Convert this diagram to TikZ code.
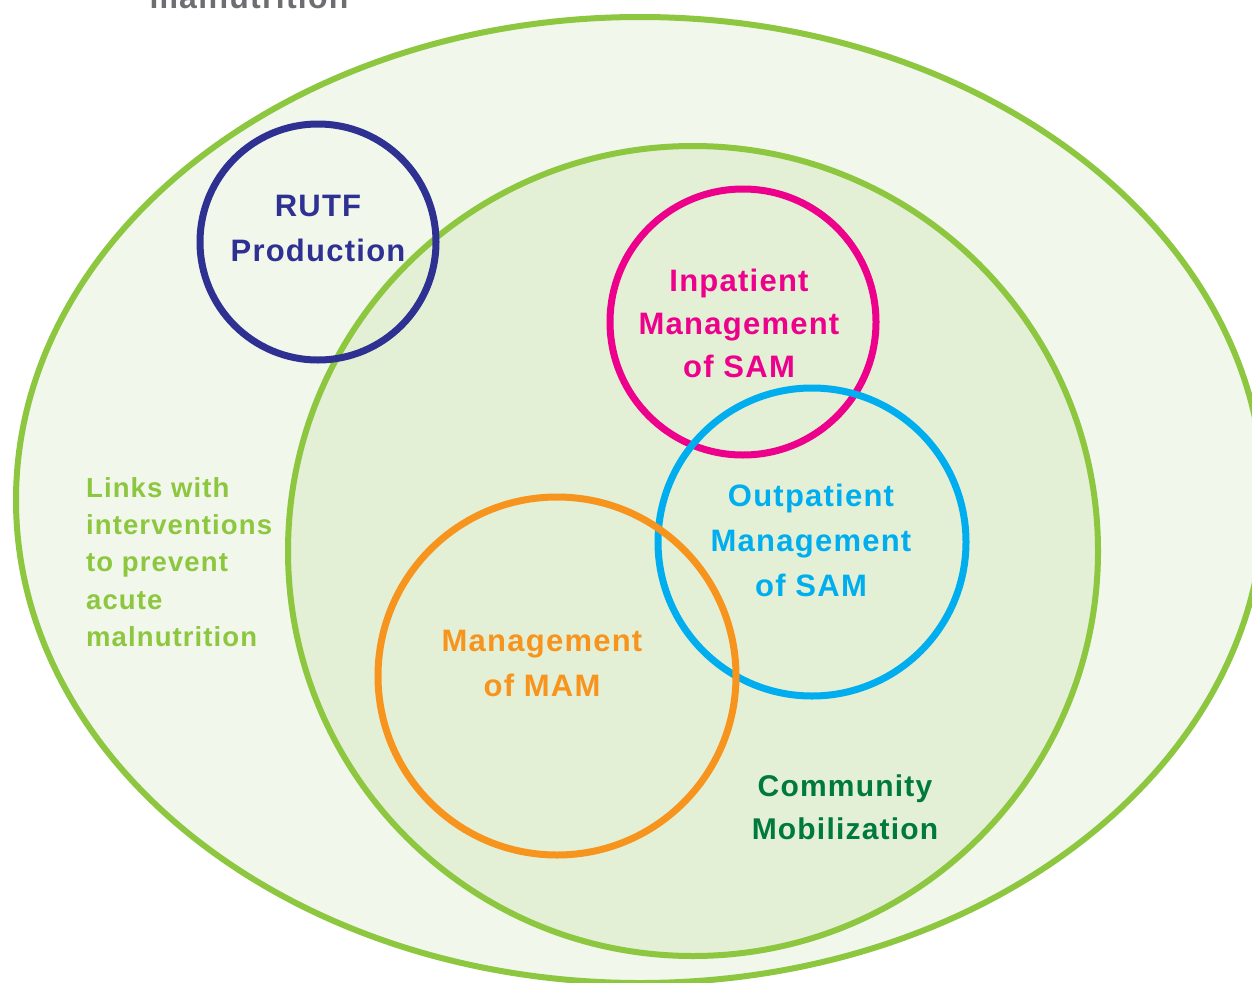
\documentclass[tikz,border=0pt]{standalone}
\usepackage{fontspec}
\setmainfont{Liberation Sans}[LetterSpace=4.0]
\usepackage{tikz}

\definecolor{verdeLinea}{HTML}{8DC63F}
\definecolor{verdeFuori}{HTML}{F1F7EB}
\definecolor{verdeDentro}{HTML}{E3F0D5}
\definecolor{verdeScuro}{HTML}{00793D}
\definecolor{blu}{HTML}{2E3192}
\definecolor{magenta}{HTML}{EC008C}
\definecolor{ciano}{HTML}{00AEEF}
\definecolor{arancio}{HTML}{F7941D}
\definecolor{grigio}{HTML}{6D6E71}

\begin{document}
\begin{tikzpicture}[x=1pt,y=-1pt,
    anello/.style={line width=7pt},
    etichetta/.style={align=center,inner sep=0pt,font=\fontsize{31}{45}\selectfont\bfseries}]
        \useasboundingbox (0,0) rectangle (1252,982);

        % Titolo tagliato in alto
        \node[anchor=base,inner sep=0pt,text=grigio,font=\fontsize{32}{38}\selectfont\bfseries] (titolo) at (249,9) {malnutrition};

        % Ellisse esterna e cerchio interno
        \filldraw[fill=verdeFuori,draw=verdeLinea,line width=6pt] (640,500) ellipse [x radius=624,y radius=483];
        \filldraw[fill=verdeDentro,draw=verdeLinea,line width=6pt] (693,551) circle (405);

        % Cerchi colorati
        \draw[anello,draw=blu] (318,242) circle (118); % RUTF
        \draw[anello,draw=magenta] (743,322) circle (133); % ricoverati
        \draw[anello,draw=ciano] (812,542) circle (154); % ambulatoriali
        \draw[anello,draw=arancio] (557,676) circle (179); % MAM

        % Testi
        \node[etichetta,text=blu] (rutf) at (318,228) {RUTF\\Production};
        \node[etichetta,text=magenta,font=\fontsize{31}{43}\selectfont\bfseries] (ricoverati) at (739,323) {Inpatient\\Management\\of SAM};
        \node[etichetta,text=ciano] (ambulatoriali) at (811,540) {Outpatient\\Management\\of SAM};
        \node[etichetta,text=arancio] (mam) at (542,663) {Management\\of MAM};
        \node[etichetta,text=verdeScuro,font=\fontsize{30}{43}\selectfont\bfseries] (comunita) at (845,807) {Community\\Mobilization};
        \node[anchor=north west,align=left,inner sep=0pt,text=verdeLinea,font=\fontsize{27.5}{37.3}\selectfont\bfseries] (legami) at (86,477) {Links with\\interventions\\to prevent\\acute\\malnutrition};
    \end{tikzpicture}
\end{document}
